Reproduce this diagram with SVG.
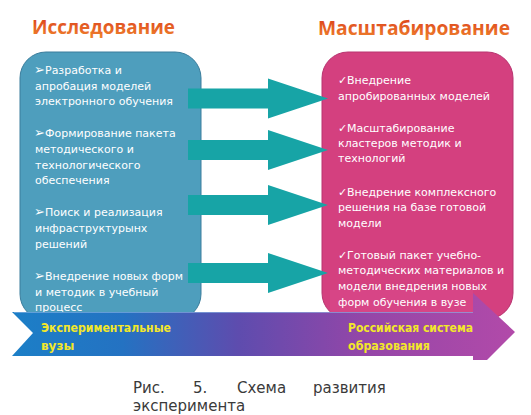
<svg xmlns="http://www.w3.org/2000/svg" width="531" height="415" viewBox="0 0 531 415">
<defs>
<linearGradient id="band" x1="12" y1="0" x2="515" y2="0" gradientUnits="userSpaceOnUse">
<stop offset="0" stop-color="#1c7fc7"/>
<stop offset="0.22" stop-color="#2472c2"/>
<stop offset="0.45" stop-color="#5e4cae"/>
<stop offset="0.7" stop-color="#9446a8"/>
<stop offset="1" stop-color="#b24aa9"/>
</linearGradient>
<linearGradient id="title" x1="0" y1="0" x2="0" y2="1">
<stop offset="0" stop-color="#d8361a"/>
<stop offset="1" stop-color="#f28a2e"/>
</linearGradient>
<polygon id="arr" points="188,-10 268,-10 268,-20 328,0 268,20 268,10 188,10"/>
</defs>
<style>
.t{font-family:"DejaVu Sans",sans-serif;font-size:11px;fill:#ffffff}
.b{font-size:13px}
.title{font-family:"Open Sans","DejaVu Sans",sans-serif;font-size:19px;font-weight:bold;fill:url(#title)}
.lbl{font-family:"DejaVu Sans",sans-serif;font-size:12px;font-weight:bold;fill:#f2e82a}
.cap{font-family:"DejaVu Sans",sans-serif;font-size:15px;fill:#3a3a3a}
.arrow{fill:#17a4a6}
</style>
<rect width="531" height="415" fill="#ffffff"/>

<g id="research">
<rect x="20" y="52" width="181" height="268" rx="26" fill="#4e9ebd" stroke="#3a7d9c" stroke-width="1"/>
<text class="t"><tspan class="b" x="34" y="74">➢</tspan><tspan x="45">Разработка и</tspan><tspan x="35" y="89.5">апробация моделей</tspan><tspan x="35" y="105">электронного обучения</tspan></text>
<text class="t"><tspan class="b" x="34" y="137">➢</tspan><tspan x="45">Формирование пакета</tspan><tspan x="35" y="152.5">методического и</tspan><tspan x="35" y="168.5">технологического</tspan><tspan x="35" y="184">обеспечения</tspan></text>
<text class="t"><tspan class="b" x="34" y="216">➢</tspan><tspan x="45">Поиск и реализация</tspan><tspan x="35" y="232">инфраструктурынх</tspan><tspan x="35" y="248">решений</tspan></text>
<text class="t"><tspan class="b" x="34" y="280">➢</tspan><tspan x="45">Внедрение новых форм</tspan><tspan x="35" y="296">и методик в учебный</tspan><tspan x="35" y="311">процесс</tspan></text>
</g>

<g id="scaling">
<rect x="322" y="52" width="191" height="267" rx="26" fill="#d4407f" stroke="#b83470" stroke-width="1"/>
<rect x="330" y="290" width="143" height="22" fill="#d84a8a" opacity="0.6"/>
<text class="t"><tspan x="338" y="84">✓</tspan><tspan x="347">Внедрение</tspan><tspan x="338" y="100">апробированных моделей</tspan></text>
<text class="t"><tspan x="338" y="132">✓</tspan><tspan x="347">Масштабирование</tspan><tspan x="338" y="147">кластеров методик и</tspan><tspan x="338" y="162">технологий</tspan></text>
<text class="t"><tspan x="338" y="196">✓</tspan><tspan x="347">Внедрение комплексного</tspan><tspan x="338" y="211">решения на базе готовой</tspan><tspan x="338" y="227">модели</tspan></text>
<text class="t"><tspan x="338" y="259">✓</tspan><tspan x="347">Готовый пакет учебно-</tspan><tspan x="338" y="274">методических материалов и</tspan><tspan x="338" y="290">модели внедрения новых</tspan><tspan x="338" y="306">форм обучения в вузе</tspan></text>
</g>

<g id="connectors">
<use href="#arr" class="arrow" transform="translate(0,98.5)"/>
<use href="#arr" class="arrow" transform="translate(0,150)"/>
<use href="#arr" class="arrow" transform="translate(0,205)"/>
<use href="#arr" class="arrow" transform="translate(0,273)"/>
</g>

<g id="band">
<polygon points="12,312 473,312 473,293 515,332 487,360 473,360 473,356 12,356 33,333" fill="url(#band)"/>
<line x1="14" y1="312.5" x2="473" y2="312.5" stroke="#8fb8e6" stroke-opacity="0.6" stroke-width="1"/>
<text class="lbl"><tspan x="41" y="332" textLength="130" lengthAdjust="spacingAndGlyphs">Экспериментальные</tspan><tspan x="41" y="350">вузы</tspan></text>
<text class="lbl"><tspan x="348" y="332" textLength="125" lengthAdjust="spacingAndGlyphs">Российская система</tspan><tspan x="348" y="350" textLength="82" lengthAdjust="spacingAndGlyphs">образования</tspan></text>
</g>

<g id="titles">
<text class="title" x="32" y="34" textLength="143" lengthAdjust="spacingAndGlyphs">Исследование</text>
<text class="title" x="318" y="35" textLength="192" lengthAdjust="spacingAndGlyphs">Масштабирование</text>
</g>

<g id="caption">
<text class="cap" x="133" y="393">Рис.</text>
<text class="cap" x="193" y="393">5.</text>
<text class="cap" x="237" y="393">Схема</text>
<text class="cap" x="313" y="393">развития</text>
<text class="cap" x="133" y="411">эксперимента</text>
</g>
</svg>
